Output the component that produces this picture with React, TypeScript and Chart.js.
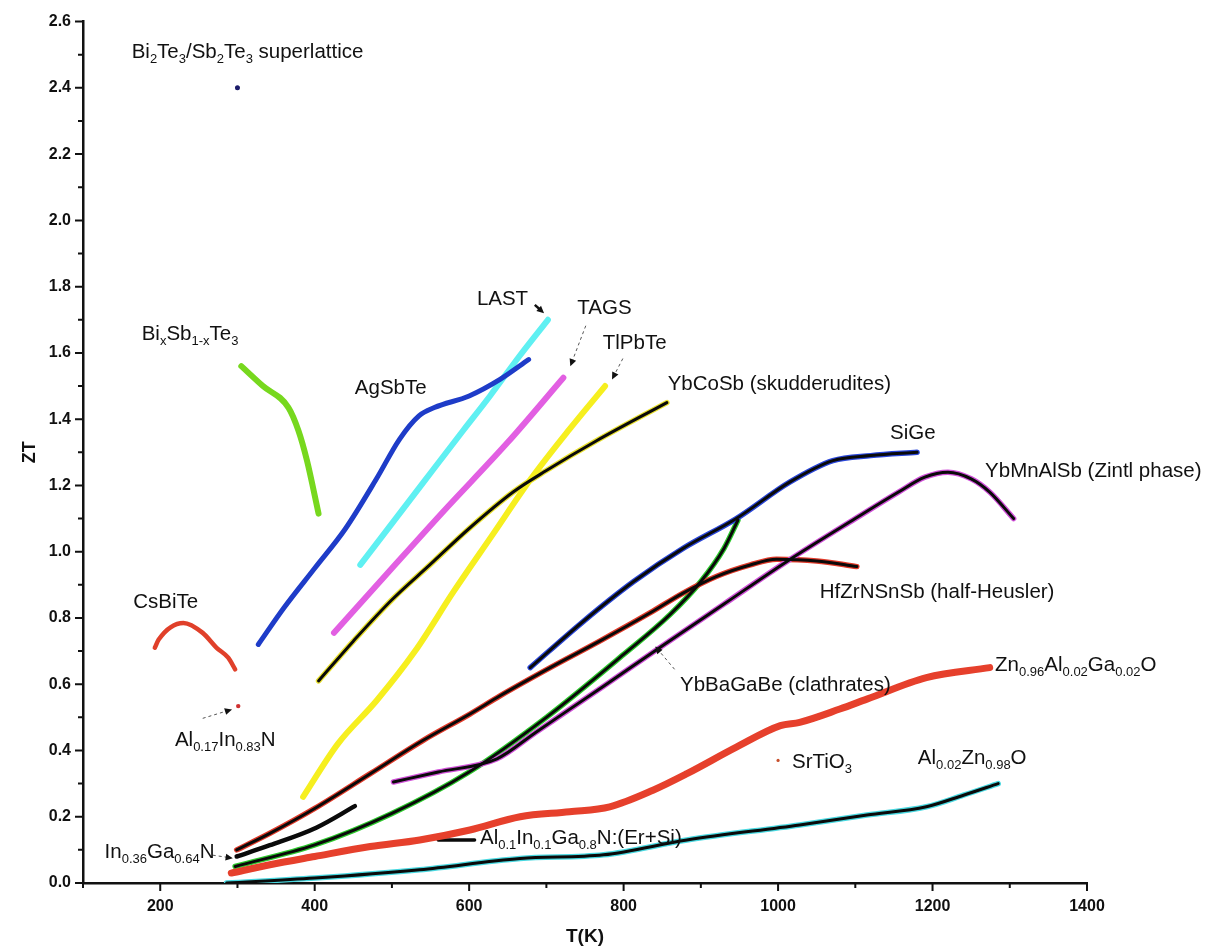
import React, { useEffect, useRef } from 'react';
import { Chart, registerables } from 'chart.js';

Chart.register(...registerables);

const FONT = '"Liberation Sans", Arial, Helvetica, sans-serif';

// Axis ranges and tick steps
const tempMin = 100;
const tempMax = 1400;
const tempStep = 100;
const ztMin = 0;
const ztMax = 2.6;
const ztStep = 0.1;

// Temperature (K) and ZT for each material
const superlatticeT = [300];
const superlatticeZT = [2.4];

const biSbTeT = [305, 333, 366, 379, 390, 405];
const biSbTeZT = [1.56, 1.5, 1.435, 1.365, 1.275, 1.115];

const agSbTeT = [327, 360, 400, 440, 480, 510, 535, 555, 600, 640, 677];
const agSbTeZT = [0.72, 0.83, 0.95, 1.07, 1.22, 1.34, 1.41, 1.435, 1.47, 1.52, 1.58];

const lastT = [459, 541, 592, 627, 665, 702];
const lastZT = [0.96, 1.21, 1.365, 1.47, 1.59, 1.7];

const tagsT = [425, 500, 566, 650, 722];
const tagsZT = [0.755, 0.95, 1.12, 1.33, 1.525];

const tlPbTeT = [385, 430, 480, 530, 580, 630, 680, 730, 776];
const tlPbTeZT = [0.26, 0.42, 0.55, 0.7, 0.88, 1.05, 1.22, 1.37, 1.5];

const ybCoSbT = [405, 450, 500, 549, 600, 657, 700, 765, 856];
const ybCoSbZT = [0.61, 0.73, 0.855, 0.96, 1.07, 1.18, 1.245, 1.335, 1.45];

const siGeT = [679, 748, 813, 877, 946, 1015, 1071, 1120, 1180];
const siGeZT = [0.65, 0.79, 0.91, 1.01, 1.1, 1.21, 1.275, 1.29, 1.3];

const ybMnAlSbT = [502, 560, 636, 687, 774, 856, 930, 1011, 1100, 1156, 1190, 1220, 1250, 1274, 1305];
const ybMnAlSbZT = [0.305, 0.335, 0.375, 0.456, 0.594, 0.725, 0.842, 0.97, 1.1, 1.18, 1.225, 1.24, 1.22, 1.18, 1.1];

const hfZrT = [299, 342, 400, 472, 540, 601, 640, 705, 769, 834, 877, 920, 964, 998, 1050, 1102];
const hfZrZT = [0.1, 0.15, 0.225, 0.33, 0.43, 0.51, 0.565, 0.65, 0.73, 0.815, 0.875, 0.925, 0.96, 0.977, 0.972, 0.955];

const ybBaGaBeT = [297, 400, 500, 600, 700, 800, 860, 900, 930, 948];
const ybBaGaBeZT = [0.05, 0.115, 0.21, 0.335, 0.5, 0.69, 0.81, 0.91, 1.01, 1.095];

const inGaNT = [299, 342, 402, 452];
const inGaNZT = [0.08, 0.114, 0.167, 0.232];

const znAlGaOT = [292, 342, 400, 472, 536, 601, 666, 730, 782, 838, 882, 946, 1003, 1028, 1080, 1115, 1192, 1274];
const znAlGaOZT = [0.03, 0.055, 0.08, 0.11, 0.13, 0.16, 0.2, 0.215, 0.23, 0.28, 0.33, 0.41, 0.475, 0.485, 0.525, 0.555, 0.62, 0.65];

const alZnOT = [286, 400, 536, 666, 774, 882, 1028, 1115, 1192, 1240, 1285];
const alZnOZT = [0.0, 0.015, 0.04, 0.074, 0.085, 0.13, 0.175, 0.205, 0.23, 0.265, 0.3];

const alInGaNT = [560, 607];
const alInGaNZT = [0.13, 0.13];

const csBiTeT = [193, 198, 230, 255, 273, 288, 297];
const csBiTeZT = [0.71, 0.735, 0.785, 0.755, 0.71, 0.68, 0.645];

const alInNT = [301];
const alInNZT = [0.534];

const srTiO3T = [1000];
const srTiO3ZT = [0.37];

// Material names, written with _{...} for subscripts, and where they sit (K, ZT)
const materialLabels = [
  { text: 'Bi_{2}Te_{3}/Sb_{2}Te_{3} superlattice', x: 163, y: 2.507 },
  { text: 'Bi_{x}Sb_{1-x}Te_{3}', x: 176, y: 1.655 },
  { text: 'AgSbTe', x: 452, y: 1.493 },
  { text: 'LAST', x: 610, y: 1.763 },
  { text: 'TAGS', x: 740, y: 1.736 },
  { text: 'TlPbTe', x: 773, y: 1.628 },
  { text: 'YbCoSb (skudderudites)', x: 857, y: 1.505 },
  { text: 'SiGe', x: 1145, y: 1.357 },
  { text: 'YbMnAlSb (Zintl phase)', x: 1268, y: 1.243 },
  { text: 'HfZrNSnSb (half-Heusler)', x: 1054, y: 0.876 },
  { text: 'YbBaGaBe (clathrates)', x: 873, y: 0.596 },
  { text: 'Zn_{0.96}Al_{0.02}Ga_{0.02}O', x: 1281, y: 0.656 },
  { text: 'SrTiO_{3}', x: 1018, y: 0.364 },
  { text: 'Al_{0.02}Zn_{0.98}O', x: 1181, y: 0.376 },
  { text: 'Al_{0.1}In_{0.1}Ga_{0.8}N:(Er+Si)', x: 614, y: 0.135 },
  { text: 'CsBiTe', x: 165, y: 0.846 },
  { text: 'Al_{0.17}In_{0.83}N', x: 219, y: 0.43 },
  { text: 'In_{0.36}Ga_{0.64}N', x: 128, y: 0.093 },
];

// Pointer arrows from labels to their curves (K, ZT)
const pointers = [
  { from: [685, 1.745], to: [697, 1.72], dashed: false },
  { from: [751, 1.682], to: [731, 1.56], dashed: true },
  { from: [799, 1.583], to: [785, 1.52], dashed: true },
  { from: [866, 0.645], to: [841, 0.714], dashed: true },
  { from: [255, 0.497], to: [293, 0.524], dashed: true },
  { from: [268, 0.084], to: [294, 0.075], dashed: true },
];

const pts = (xs: number[], ys: number[]) => xs.map((x, i) => ({ x, y: ys[i] }));

function plainLine(label: string, xs: number[], ys: number[], color: string, width: number) {
  return {
    label,
    data: pts(xs, ys),
    showLine: true,
    borderColor: color,
    backgroundColor: color,
    borderWidth: width,
    borderCapStyle: 'round',
    borderJoinStyle: 'round',
    pointRadius: 0,
    cubicInterpolationMode: 'monotone',
    order: 2,
  };
}

// black curve with a thin coloured halo
function haloLine(label: string, xs: number[], ys: number[], halo: string) {
  return [
    {
      ...plainLine(label, xs, ys, '#0a0a0a', 3),
      order: 1,
    },
    {
      ...plainLine(label + ' halo', xs, ys, halo, 5.5),
      order: 3,
    },
  ];
}

function dot(label: string, xs: number[], ys: number[], color: string, r: number) {
  return {
    label,
    data: pts(xs, ys),
    showLine: false,
    pointRadius: r,
    pointBorderWidth: 0,
    backgroundColor: color,
    borderColor: color,
    order: 0,
  };
}

function drawRich(ctx: CanvasRenderingContext2D, text: string, x: number, y: number, size: number) {
  const parts: { s: string; sub: boolean }[] = [];
  const re = /_\{([^}]*)\}/g;
  let last = 0;
  let m: RegExpExecArray | null;
  while ((m = re.exec(text))) {
    if (m.index > last) parts.push({ s: text.slice(last, m.index), sub: false });
    parts.push({ s: m[1], sub: true });
    last = m.index + m[0].length;
  }
  if (last < text.length) parts.push({ s: text.slice(last), sub: false });
  let cx = x;
  ctx.textAlign = 'left';
  ctx.textBaseline = 'middle';
  for (const p of parts) {
    const fs = p.sub ? Math.round(size * 0.62) : size;
    ctx.font = `${fs}px ${FONT}`;
    ctx.fillText(p.s, cx, p.sub ? y + size * 0.33 : y);
    cx += ctx.measureText(p.s).width;
  }
}

const annotations = {
  id: 'annotations',
  afterDatasetsDraw(chart: any) {
    const { ctx } = chart;
    const xs = chart.scales.x;
    const ys = chart.scales.y;
    ctx.save();
    // pointers
    for (const p of pointers) {
      const x1 = xs.getPixelForValue(p.from[0]);
      const y1 = ys.getPixelForValue(p.from[1]);
      const x2 = xs.getPixelForValue(p.to[0]);
      const y2 = ys.getPixelForValue(p.to[1]);
      const ang = Math.atan2(y2 - y1, x2 - x1);
      ctx.strokeStyle = p.dashed ? '#555' : '#111';
      ctx.lineWidth = p.dashed ? 1 : 2.5;
      ctx.setLineDash(p.dashed ? [3, 3] : []);
      ctx.beginPath();
      ctx.moveTo(x1, y1);
      ctx.lineTo(x2 - Math.cos(ang) * 4, y2 - Math.sin(ang) * 4);
      ctx.stroke();
      ctx.setLineDash([]);
      ctx.fillStyle = '#111';
      ctx.beginPath();
      ctx.moveTo(x2, y2);
      ctx.lineTo(x2 - Math.cos(ang - 0.45) * 8, y2 - Math.sin(ang - 0.45) * 8);
      ctx.lineTo(x2 - Math.cos(ang + 0.45) * 8, y2 - Math.sin(ang + 0.45) * 8);
      ctx.closePath();
      ctx.fill();
    }
    // material names
    ctx.fillStyle = '#111';
    for (const l of materialLabels) {
      drawRich(ctx, l.text, xs.getPixelForValue(l.x), ys.getPixelForValue(l.y), 20.5);
    }
    ctx.restore();
  },
  afterDraw(chart: any) {
    const { ctx, chartArea } = chart;
    const xs = chart.scales.x;
    const ys = chart.scales.y;
    ctx.save();
    ctx.strokeStyle = '#111';
    ctx.lineWidth = 2;
    ctx.beginPath();
    for (const t of xs.ticks) {
      const px = xs.getPixelForValue(t.value);
      const len = Math.round(t.value) % 200 === 0 ? 8 : 5;
      ctx.moveTo(px, chartArea.bottom);
      ctx.lineTo(px, chartArea.bottom + len);
    }
    for (const t of ys.ticks) {
      const py = ys.getPixelForValue(t.value);
      const len = Math.round(t.value * 10) % 2 === 0 ? 8 : 5;
      ctx.moveTo(chartArea.left - len, py);
      ctx.lineTo(chartArea.left, py);
    }
    ctx.stroke();
    // axis titles
    ctx.fillStyle = '#111';
    ctx.font = `bold 19px ${FONT}`;
    ctx.textAlign = 'center';
    ctx.textBaseline = 'middle';
    ctx.fillText('T(K)', (chartArea.left + chartArea.right) / 2, chartArea.bottom + 54);
    ctx.translate(chartArea.left - 53, (chartArea.top + chartArea.bottom) / 2);
    ctx.rotate(-Math.PI / 2);
    ctx.font = `bold 18px ${FONT}`;
    ctx.fillText('ZT', 0, 0);
    ctx.restore();
  },
};

export default function App() {
  const ref = useRef<HTMLCanvasElement | null>(null);

  useEffect(() => {
    if (!ref.current) return;
    const datasets: any[] = [
      dot('Bi2Te3/Sb2Te3 superlattice', superlatticeT, superlatticeZT, '#1c1c6a', 2.5),
      plainLine('BixSb1-xTe3', biSbTeT, biSbTeZT, '#77d81e', 6),
      plainLine('AgSbTe', agSbTeT, agSbTeZT, '#1e3cc8', 5),
      plainLine('LAST', lastT, lastZT, '#5ff0f2', 6),
      plainLine('TAGS', tagsT, tagsZT, '#e25fe2', 6),
      plainLine('TlPbTe', tlPbTeT, tlPbTeZT, '#f6ef1f', 6),
      ...haloLine('YbCoSb', ybCoSbT, ybCoSbZT, '#e8e030'),
      ...haloLine('SiGe', siGeT, siGeZT, '#2a46d8'),
      ...haloLine('YbMnAlSb', ybMnAlSbT, ybMnAlSbZT, '#d050d8'),
      ...haloLine('HfZrNSnSb', hfZrT, hfZrZT, '#e03a2a'),
      ...haloLine('YbBaGaBe', ybBaGaBeT, ybBaGaBeZT, '#2cc82c'),
      plainLine('In0.36Ga0.64N', inGaNT, inGaNZT, '#0a0a0a', 4.5),
      plainLine('Zn0.96Al0.02Ga0.02O', znAlGaOT, znAlGaOZT, '#e6402c', 7),
      ...haloLine('Al0.02Zn0.98O', alZnOT, alZnOZT, '#48d8e0'),
      plainLine('Al0.1In0.1Ga0.8N:(Er+Si)', alInGaNT, alInGaNZT, '#0a0a0a', 3.5),
      plainLine('CsBiTe', csBiTeT, csBiTeZT, '#e0402a', 4.5),
      dot('Al0.17In0.83N', alInNT, alInNZT, '#d03030', 2.2),
      dot('SrTiO3', srTiO3T, srTiO3ZT, '#c8502c', 1.6),
    ];

    const chart = new Chart(ref.current, {
      type: 'scatter',
      data: { datasets },
      plugins: [annotations],
      options: {
        animation: false,
        responsive: false,
        devicePixelRatio: 1,
        layout: { padding: { left: 0, top: 19, right: 128, bottom: 0 } },
        plugins: {
          legend: { display: false },
          tooltip: { enabled: false },
        },
        scales: {
          x: {
            type: 'linear',
            min: tempMin,
            max: tempMax,
            afterFit: (s: any) => { s.height = 68; },
            ticks: {
              stepSize: tempStep,
              autoSkip: false,
              maxRotation: 0,
              padding: 14,
              color: '#111',
              font: { family: FONT, size: 16, weight: 'bold' },
              callback: (v: any) => (Math.round(v) % 200 === 0 ? String(Math.round(v)) : ''),
            },
            grid: { display: false, drawTicks: false },
            border: { display: true, color: '#111', width: 2.5 },
          },
          y: {
            type: 'linear',
            min: ztMin,
            max: ztMax,
            afterFit: (s: any) => { s.width = 83; },
            ticks: {
              stepSize: ztStep,
              autoSkip: false,
              padding: 12,
              color: '#111',
              font: { family: FONT, size: 16, weight: 'bold' },
              callback: (v: any) => (Math.round(v * 10) % 2 === 0 ? Number(v).toFixed(1) : ''),
            },
            grid: { display: false, drawTicks: false },
            border: { display: true, color: '#111', width: 2.5 },
          },
        },
      } as any,
    });
    return () => chart.destroy();
  }, []);

  return (
    <div style={{ position: 'absolute', left: 0, top: 0, width: 1215, height: 951, background: '#fff' }}>
      <canvas ref={ref} width={1215} height={951} style={{ display: 'block' }} />
    </div>
  );
}
